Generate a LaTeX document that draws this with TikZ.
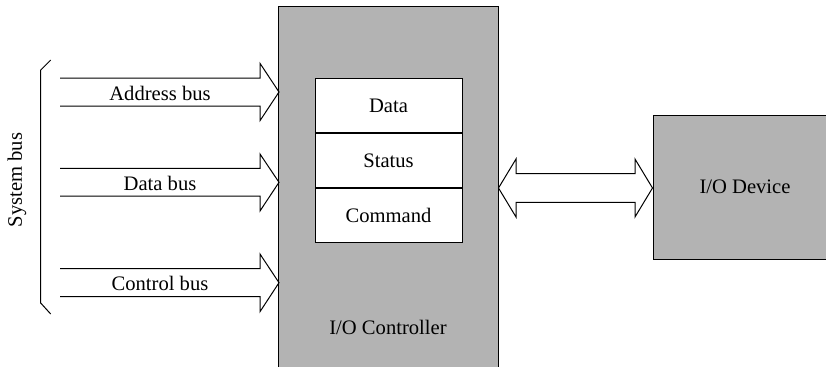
\documentclass[tikz,border=0pt]{standalone}
\usepackage{fontspec}
\setmainfont{Liberation Serif}
\usetikzlibrary{positioning}
\definecolor{boxgray}{RGB}{179,179,179}

\begin{document}
\begin{tikzpicture}[x=0.5pt,y=-0.5pt,font=\fontsize{10.3}{12}\selectfont,line width=0.5pt]
    \useasboundingbox (0,0) rectangle (826,366);
    %\draw[very thin,color=gray] (0,0) grid[step=50] (826,366);
    \tikzset{reg/.style={draw, fill=white, minimum width=73.5pt, minimum height=27pt, inner sep=0pt}}
    % controller and device
    \node [draw, fill=boxgray, minimum width=110pt, minimum height=190pt, anchor=north] (ctrl) at (388,6) {};
    \node (ctrltext) at (388,327) {I/O Controller};
    \node [draw, fill=boxgray, minimum width=92pt, minimum height=72pt] (dev) at (745,187) {I/O Device};
    % registers
    \node [reg] (data) at (388.5,105.7) {Data};
    \node [reg, below=0pt of data] (status) {Status};
    \node [reg, below=0pt of status] (cmd) {Command};
    % buses
    \draw [black] (60,78) -- (260,78) -- (260,63.3) -- (279,92) -- (260,120.7) -- (260,106) -- (60,106);
    \draw [black] (60,168.3) -- (260,168.3) -- (260,154) -- (279,182.3) -- (260,211) -- (260,196) -- (60,196);
    \draw [black] (60,268.7) -- (260,268.7) -- (260,254) -- (279,282.7) -- (260,311.7) -- (260,296.7) -- (60,296.7);
    \node (addr) at (160,93) {Address bus};
    \node (dbus) at (160,183) {Data bus};
    \node (cbus) at (160,283) {Control bus};
    % system bus bracket
    \draw [black] (50.7,60) -- (40.7,70) -- (40.7,303) -- (50.7,314);
    \node [rotate=90] (sys) at (17,180) {System bus};
    % link to device
    \draw [black, fill=white] (ctrl.east |- 0,188) -- (516,159) -- (516,173.7) -- (635,173.7) -- (635,159) -- (dev.west |- 0,188)
        -- (635,217) -- (635,202.3) -- (516,202.3) -- (516,217) -- cycle;
\end{tikzpicture}
\end{document}
